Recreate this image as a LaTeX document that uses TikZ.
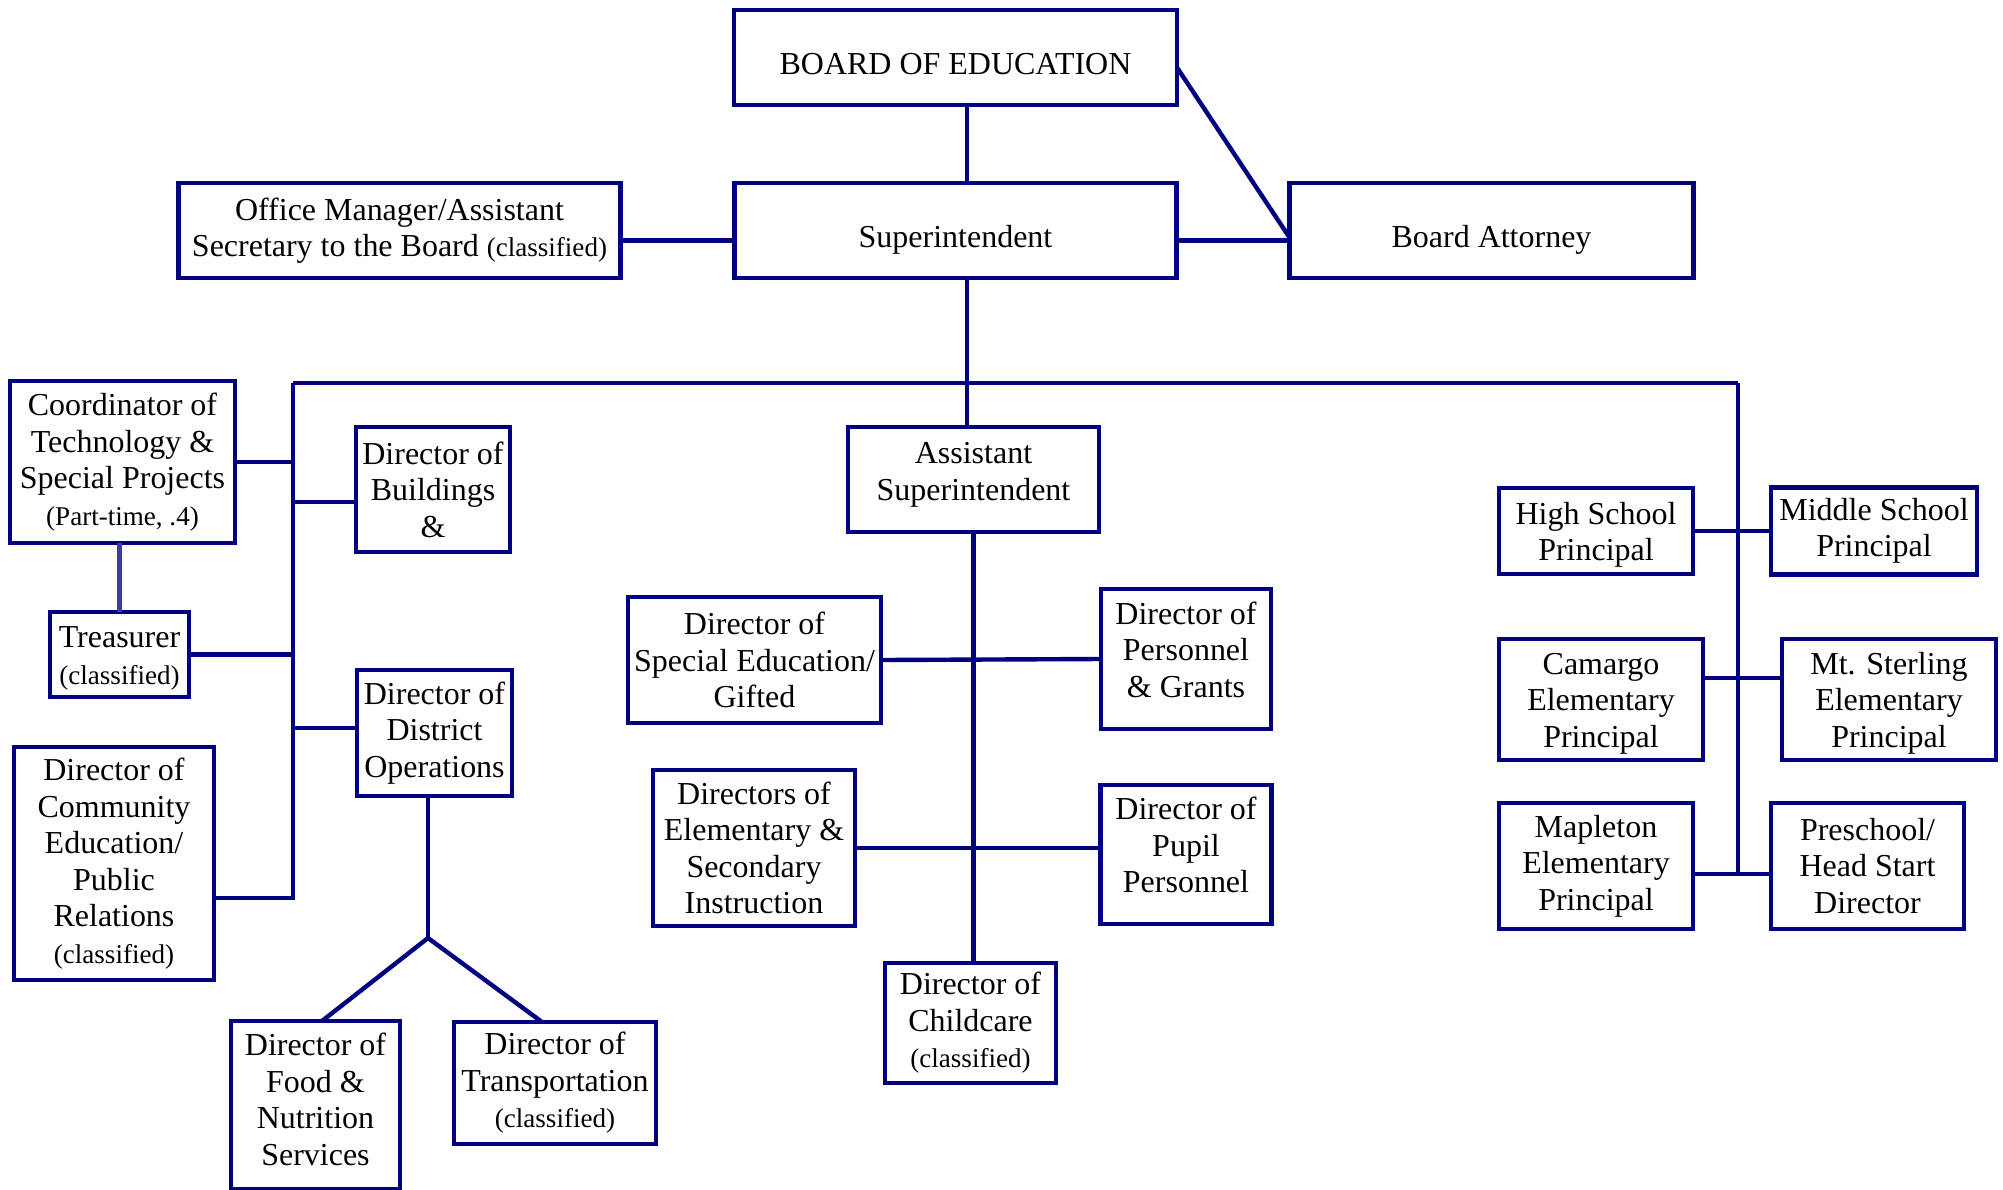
\documentclass[tikz,border=0pt]{standalone}
\usepackage{fontspec}
\setmainfont{Liberation Serif}
\usetikzlibrary{positioning}
\definecolor{navy}{RGB}{0,0,128}
\definecolor{navylight}{RGB}{60,60,160}
\newcommand{\smalltag}[1]{{\fontsize{7.7}{10.4}\selectfont #1}}
\newcommand{\nudge}[2]{\raisebox{#1}[\height][\depth]{\begin{tabular}{@{}c@{}}#2\end{tabular}}}

\begin{document}
\begin{tikzpicture}[
post/.style={
	% The shape:
	rectangle,
	% The border:
	line width=1.4pt,
	draw=navy,
	% The size is given per box, so no padding
	inner sep=0pt, outer sep=0pt,
	% Font
	align=center,
	font=\fontsize{9.1}{10.4}\selectfont},
dims/.style 2 args={minimum width=#1cm, minimum height=#2cm},
link/.style={line width=1.25pt, draw=navy},
bus/.style={line width=0.9pt, draw=navy},
]
\useasboundingbox (0,0) rectangle (20.03,-11.89);

\node (board) [post, dims={4.43}{0.95}] at (9.555,-0.575) {\nudge{-0.1cm}{BOARD OF EDUCATION}};
\node (super) [post, dims={4.42}{0.95}, below=0.78cm of board] {\nudge{-0.1cm}{Superintendent}};
\node (secretary) [post, dims={4.42}{0.95}, left=1.14cm of super] {Office Manager/Assistant\\Secretary to the Board \smalltag{(classified)}};
\node (attorney) [post, dims={4.04}{0.95}, right=1.13cm of super] {\nudge{-0.1cm}{Board Attorney}};

\node (coord) [post, dims={2.25}{1.62}] at (1.225,-4.62) {Coordinator of\\Technology \&\\Special Projects\\\smalltag{(Part-time, .4)}};
\node (buildings) [post, dims={1.54}{1.25}] at (4.33,-4.895) {Director of\\Buildings\\\&};
\node (treasurer) [post, dims={1.39}{0.85}] at (1.195,-6.545) {\nudge{-0.04cm}{Treasurer\\\smalltag{(classified)}}};
\node (distops) [post, dims={1.55}{1.26}] at (4.345,-7.33) {Director of\\District\\Operations};
\node (community) [post, dims={2.00}{2.33}] at (1.14,-8.635) {Director of\\Community\\Education/\\Public\\Relations\\\smalltag{(classified)}};
\node (food) [post, dims={1.69}{1.68}] at (3.155,-11.05) {\nudge{0.02cm}{Director of\\Food \&\\Nutrition\\Services}};
\node (transport) [post, dims={2.02}{1.22}] at (5.55,-10.83) {Director of\\Transportation\\\smalltag{(classified)}};

\node (asst) [post, dims={2.51}{1.05}] at (9.735,-4.795) {\nudge{0.05cm}{Assistant\\Superintendent}};
\node (speced) [post, dims={2.53}{1.26}] at (7.545,-6.60) {Director of\\Special Education/\\Gifted};
\node (elemsec) [post, dims={2.02}{1.56}] at (7.54,-8.48) {Directors of\\Elementary \&\\Secondary\\Instruction};
\node (childcare) [post, dims={1.71}{1.20}] at (9.705,-10.23) {Director of\\Childcare\\\smalltag{(classified)}};
\node (personnel) [post, dims={1.70}{1.40}] at (11.86,-6.59) {\nudge{0.055cm}{Director of\\Personnel\\\& Grants}};
\node (pupil) [post, dims={1.71}{1.39}, below=0.56cm of personnel] {\nudge{0.055cm}{Director of\\Pupil\\Personnel}};

\node (high) [post, dims={1.94}{0.86}] at (15.96,-5.31) {\nudge{-0.04cm}{High School\\Principal}};
\node (middle) [post, dims={2.06}{0.87}, right=0.78cm of high] {Middle School\\Principal};
\node (camargo) [post, dims={2.04}{1.21}] at (16.01,-6.995) {\nudge{-0.04cm}{Camargo\\Elementary\\Principal}};
\node (sterling) [post, dims={2.14}{1.21}, right=0.79cm of camargo] {\nudge{-0.04cm}{Mt. Sterling\\Elementary\\Principal}};
\node (mapleton) [post, dims={1.94}{1.26}] at (15.96,-8.66) {Mapleton\\Elementary\\Principal};
\node (preschool) [post, dims={1.93}{1.26}, right=0.78cm of mapleton] {Preschool/\\Head Start\\Director};

\coordinate (trunk) at (9.67,-3.83);
\coordinate (busL) at (2.93,-3.83);
\coordinate (busR) at (17.38,-3.83);
\coordinate (leftend) at (2.93,-8.98);
\coordinate (rightend) at (17.38,-8.74);
\coordinate (cjoin) at (17.38,-6.78);
\coordinate (fork) at (4.28,-9.38);

\draw[link] (board.south -| trunk) -- (super.north -| trunk);
\draw[link] ([yshift=-0.1cm]board.east) -- ([yshift=-0.07cm]attorney.west);
\draw[link] ([yshift=-0.1cm]secretary.east) -- ([yshift=-0.1cm]super.west);
\draw[link] ([yshift=-0.1cm]super.east) -- ([yshift=-0.1cm]attorney.west);
\draw[link] (super.south -| trunk) -- (trunk);
\draw[bus] (busL) -- (busR);

\draw[link] (busL) -- (leftend) -- (leftend -| community.east);
\draw[link] (coord.east) -- (coord.east -| busL);
\draw[link] ([yshift=-0.125cm]buildings.west) -- ([yshift=-0.125cm]buildings.west -| busL);
\draw[link] (treasurer.east) -- (treasurer.east -| busL);
\draw[link] ([yshift=0.05cm]distops.west) -- ([yshift=0.05cm]distops.west -| busL);
\draw[link, navylight] (treasurer.north) -- (treasurer.north |- coord.south);
\draw[link] (distops.south -| fork) -- (fork);
\draw[link] (fork) -- ([xshift=0.065cm]food.north);
\draw[link] (fork) -- ([xshift=-0.13cm]transport.north);

\draw[link] (trunk) -- (asst.north -| trunk);
\draw[link] (asst.south) -- (asst.south |- childcare.north);
\draw[link] (speced.east) -- (personnel.west);
\draw[link] (elemsec.east) -- (elemsec.east -| pupil.west);

\draw[link] (busR) -- (rightend);
\draw[link] (high.east) -- (high.east -| middle.west);
\draw[link] (cjoin -| camargo.east) -- (cjoin -| sterling.west);
\draw[link] (rightend -| mapleton.east) -- (rightend -| preschool.west);
\end{tikzpicture}
\end{document}
